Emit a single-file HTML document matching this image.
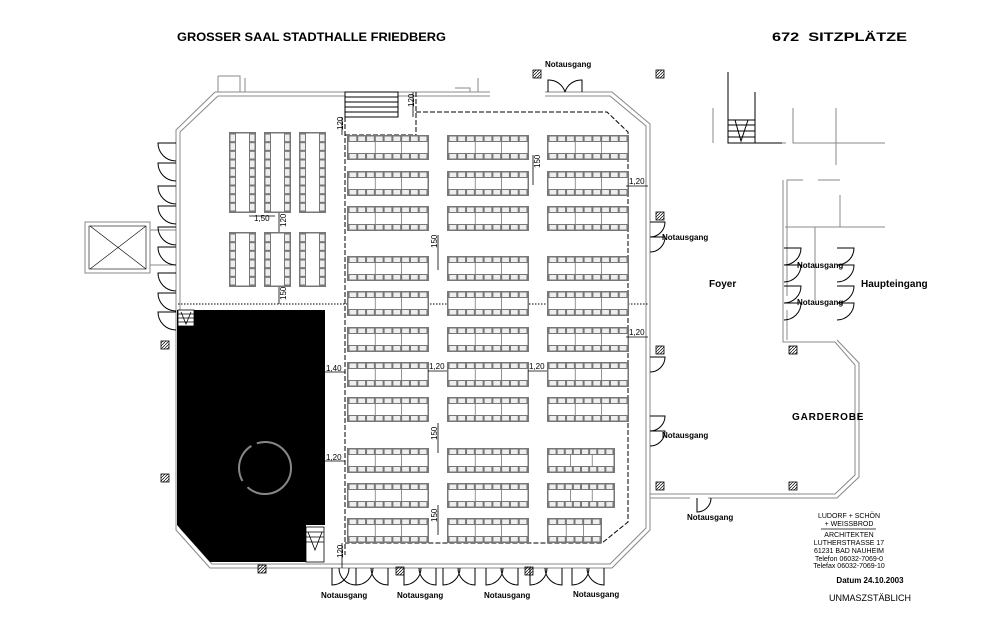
<!DOCTYPE html>
<html><head><meta charset="utf-8"><style>
html,body{margin:0;padding:0;background:#fff;width:1004px;height:632px;overflow:hidden}
svg{display:block}
text{font-family:"Liberation Sans",sans-serif}
.t{font-weight:bold;font-size:8px}
.d{font-size:8px}
</style></head><body>
<svg id="s" width="1004" height="632" viewBox="0 0 1004 632" xmlns="http://www.w3.org/2000/svg">
<defs>
<pattern id="h" width="3" height="3" patternUnits="userSpaceOnUse"><path d="M0 3L3 0" stroke="#000" stroke-width="0.7"/></pattern>
</defs>
<g fill="none" stroke="#888" stroke-width="1">
<!-- outer double walls -->
<path d="M215 92 L490 92 M545 92 L612 92 L650 124 L650 530 L612 568 L210 568 L176 530 L176 130 L215 92"/>
<path d="M218 96 L490 96 M545 96 L610 96 L646 126 L646 528 L610 564 L212 564 L180 528 L180 132 L218 96"/>
<path d="M218 76 L218 92 M218 76 L240 76 L240 92 M245 92 L245 78 M478 92 L478 78 M470 92 L470 88 L455 88 M400 92 L430 92"/>
<!-- foyer walls -->
<path d="M650 494 L835 494 L855 475 L855 365 L835 342 L783 342 L783 180 M650 498 L690 498 M708 498 L837 498 L859 477 L859 363 L837 340 M787 340 L787 310 M787 296 L787 180 L803 180 M818 180 L840 180 M785 227 L885 227 M815 227 L815 300 M840 195 L840 227"/>
<path d="M713 108 L713 143 M793 108 L793 143 L808 143 M747 143 L786 143 M826 143 L836 143 M836 108 L836 165 M808 143 L885 143"/>
<!-- elevator -->
<rect x="85" y="222" width="65" height="51"/>
<path d="M150 230 L176 230 M150 265 L176 265"/>
</g>
<path d="M90 226 L146 269 M146 226 L90 269" stroke="#000" stroke-width="0.6"/>
<rect x="89" y="226" width="57" height="43" fill="none" stroke="#000" stroke-width="0.6"/>
<!-- foyer stair -->
<g stroke="#000" fill="none" stroke-width="1">
<path d="M728 72 L728 143 L755 143 L755 92 M728 120 L755 120 M728 125 L755 125 M728 131 L755 131 M728 137 L755 137 M735 120 L741 141 L748 120 M755 143 L782 143"/>
</g>
<!-- black stage -->
<path d="M177 310 L325 310 L325 525 L306 525 L306 562 L210 562 L177 525 Z" fill="#000"/>
<circle cx="265" cy="468" r="26" fill="none" stroke="#888" stroke-width="2" stroke-dasharray="60 8 40 6"/>
<g stroke="#000" stroke-width="0.8" fill="#fff"><rect x="306" y="527" width="18" height="35"/><path d="M306 532H324M306 537H324M306 542H324M308 532L315 550L322 532" fill="none"/></g>
<g stroke="#000" stroke-width="0.8" fill="#fff"><rect x="178" y="310" width="16" height="16"/><path d="M178 314H194M178 318H194M178 322H194M181 312L186 324L191 312" fill="none"/></g>
<!-- top stair box -->
<g stroke="#000" stroke-width="1" fill="#fff"><rect x="345" y="92" width="53" height="25"/><path d="M345 97H398M345 102H398M345 107H398M345 112H398" fill="none"/></g>
<!-- dashed inner hall -->
<path d="M345 117 L345 555 M416 92 L416 135 M345 135 L416 135 M416 112 L607 112 L628 132 L628 522 L602 543 L345 543" fill="none" stroke="#000" stroke-width="1" stroke-dasharray="5 2"/>
<path d="M178 304 L648 304" stroke="#000" stroke-width="1" stroke-dasharray="1.5 1.5"/>
<g id="blocks"></g>
<g id="doors" fill="none" stroke="#000" stroke-width="1"></g>
<!-- hatched pillars -->
<g fill="url(#h)" stroke="#000" stroke-width="0.8">
<rect x="533" y="70" width="8" height="8"/><rect x="656" y="70" width="8" height="8"/>
<rect x="215" y="76" width="0" height="0"/>
<rect x="656" y="212" width="8" height="8"/><rect x="656" y="346" width="8" height="8"/>
<rect x="656" y="482" width="8" height="8"/><rect x="789" y="346" width="8" height="8"/>
<rect x="789" y="482" width="8" height="8"/><rect x="161" y="341" width="8" height="8"/>
<rect x="161" y="474" width="8" height="8"/><rect x="258" y="565" width="8" height="8"/>
<rect x="396" y="567" width="8" height="8"/><rect x="525" y="567" width="8" height="8"/>
</g>
<!-- dimension marks -->
<g stroke="#000" stroke-width="0.8">
<path d="M413 92V117M533 155V185M438 235V270M279 213V232M249 216H275M279 287V304M626 186H648M626 337H648M325 372H345M428 371H447M528 371H547M325 461H345M438 423V453M438 505V535M342 543V568M342 117V135"/>
</g>
<g class="d">
<text x="629" y="184">1,20</text><text x="629" y="335">1,20</text><text x="326" y="371">1,40</text>
<text x="429" y="369">1,20</text><text x="529" y="369">1,20</text><text x="326" y="460">1,20</text>
<text x="254" y="221">1,50</text>
<text transform="translate(414,107) rotate(-90)">120</text><text transform="translate(343,130) rotate(-90)">120</text>
<text transform="translate(540,168) rotate(-90)">150</text><text transform="translate(437,248) rotate(-90)">150</text>
<text transform="translate(286,227) rotate(-90)">120</text><text transform="translate(286,300) rotate(-90)">150</text>
<text transform="translate(437,440) rotate(-90)">150</text><text transform="translate(437,522) rotate(-90)">150</text>
<text transform="translate(343,558) rotate(-90)">120</text>
</g>
<text x="177" y="41" font-size="12" font-weight="bold" textLength="269" lengthAdjust="spacingAndGlyphs">GROSSER SAAL STADTHALLE FRIEDBERG</text>
<text x="772" y="41" font-size="12" font-weight="bold" textLength="135" lengthAdjust="spacingAndGlyphs">672&#160; SITZPLÄTZE</text>
<g class="t">
<text x="545" y="67">Notausgang</text>
<text x="662" y="240">Notausgang</text>
<text x="662" y="438">Notausgang</text>
<text x="687" y="520">Notausgang</text>
<text x="797" y="268">Notausgang</text>
<text x="797" y="305">Notausgang</text>
<text x="321" y="598">Notausgang</text><text x="397" y="598">Notausgang</text>
<text x="484" y="598">Notausgang</text><text x="573" y="597">Notausgang</text>
</g>
<text x="709" y="287" font-size="10" font-weight="bold">Foyer</text>
<text x="861" y="287" font-size="10" font-weight="bold">Haupteingang</text>
<text x="792" y="420" font-size="10" font-weight="bold" letter-spacing="0.8">GARDEROBE</text>
<g font-size="7" text-anchor="middle">
<text x="849" y="518">LUDORF + SCHÖN</text>
<text x="849" y="526">+ WEISSBROD</text>
<text x="849" y="537">ARCHITEKTEN</text>
<text x="849" y="545">LUTHERSTRASSE 17</text>
<text x="849" y="553">61231 BAD NAUHEIM</text>
<text x="849" y="561">Telefon 06032-7069-0</text>
<text x="849" y="568">Telefax 06032-7069-10</text>
<text x="870" y="583" font-weight="bold" font-size="8">Datum 24.10.2003</text>
<text x="870" y="601" font-size="9">UNMASZSTÄBLICH</text>
</g>
<path d="M821 529H876" stroke="#000" stroke-width="0.8"/>
</svg>
<script>
var NS="http://www.w3.org/2000/svg";
function el(p,t,a){var e=document.createElementNS(NS,t);for(var k in a)e.setAttribute(k,a[k]);p.appendChild(e);return e;}
var B=document.getElementById("blocks");
function hb(x,y,w){var h=25;el(B,"rect",{x:x,y:y,width:w,height:h,fill:"#777"});
el(B,"rect",{x:x+1.5,y:y+7,width:w-3,height:h-14,fill:"#fff"});
for(var i=1;i<3;i++)el(B,"rect",{x:x+1.5+(w-3)*i/3,y:y+7,width:0.8,height:h-14,fill:"#777"});
var n=Math.round(w/9);for(var i=0;i<n;i++){var sx=x+1.5+i*(w-3)/n+1;
el(B,"rect",{x:sx,y:y+1.5,width:(w-3)/n-2,height:4.5,fill:"#eee"});
el(B,"rect",{x:sx,y:y+h-6,width:(w-3)/n-2,height:4.5,fill:"#eee"});}}
function vb(x,y,h){var w=27;el(B,"rect",{x:x,y:y,width:w,height:h,fill:"#777"});
el(B,"rect",{x:x+7,y:y+1.5,width:13,height:h-3,fill:"#fff"});
var n=Math.round(h/9);for(var i=0;i<n;i++){var sy=y+1.5+i*(h-3)/n+1;
el(B,"rect",{x:x+1.5,y:sy,width:4.5,height:(h-3)/n-2,fill:"#eee"});
el(B,"rect",{x:x+w-6,y:sy,width:4.5,height:(h-3)/n-2,fill:"#eee"});}}
var rows=[135,171,206,256,291,327,362,397,448,483,518];
rows.forEach(function(y,i){hb(347,y,82);hb(447,y,82);
var w=82;if(i==8)w=68;if(i==9)w=68;if(i==10)w=55;hb(547,y,w);});
[229,264,299].forEach(function(x){vb(x,132,81);vb(x,232,55);});
var D=document.getElementById("doors");
function ld(y,s){el(D,"path",{d:"M176 "+y+" L158 "+y+" A18 18 0 0 0 176 "+(y+s)});}
[143,163,186,206,227,247,273,293,312].forEach(function(y){ld(y,18);});
function bd(x,dir){el(D,"path",{d:dir>0?"M"+x+" 568 L"+x+" 585 A17 17 0 0 0 "+(x+17)+" 568":"M"+x+" 568 L"+x+" 585 A17 17 0 0 1 "+(x-17)+" 568"});}
[[332,1],[356,-1],[356,1],[388,-1],[404,1],[436,-1],[443,1],[475,-1],[486,1],[518,-1],[530,1],[562,-1],[572,1],[604,-1]].forEach(function(a){bd(a[0],a[1]);});
function rd(y){el(D,"path",{d:"M650 "+y+" L665 "+y+" A15 15 0 0 1 650 "+(y+15)});}
[222,237,416,431,357].forEach(function(y){rd(y);});
function td(x,d){el(D,"path",{d:"M"+x+" 92 L"+x+" 80 A17 17 0 0 "+(d>0?1:0)+" "+(x+17*d)+" 92"});}
td(548,1);td(582,-1);
function gd(x,y,d){el(D,"path",{d:"M"+x+" "+y+" L"+(x+17*d)+" "+y+" A17 17 0 0 "+(d>0?1:0)+" "+x+" "+(y+17)});}
gd(784,248,1);gd(784,265,1);gd(784,286,1);gd(784,303,1);gd(837,248,1);gd(837,265,1);gd(837,286,1);gd(837,303,1);
el(D,"path",{d:"M697 498 L697 512 A14 14 0 0 0 711 498"});
</script>
</body></html>
